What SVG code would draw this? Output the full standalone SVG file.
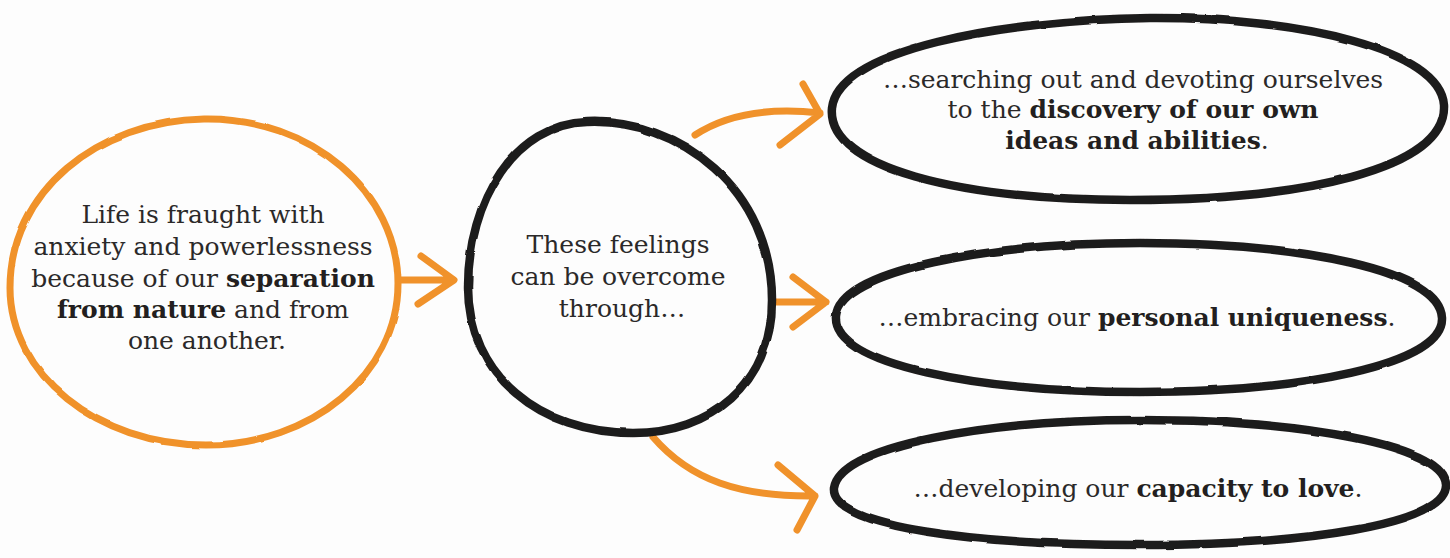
<svg xmlns="http://www.w3.org/2000/svg" width="1450" height="558" viewBox="0 0 1450 558">
<defs>
<filter id="rough" x="-5%" y="-5%" width="110%" height="110%">
<feTurbulence type="fractalNoise" baseFrequency="0.03" numOctaves="2" seed="3" result="n"/>
<feDisplacementMap in="SourceGraphic" in2="n" scale="2.5" xChannelSelector="R" yChannelSelector="G"/>
</filter>
</defs>
<style>
.bg{fill:#fdfdfd}
.ink{fill:none;stroke:#1e1c1c;stroke-width:8.5;stroke-linejoin:round;stroke-linecap:round}
.org{fill:none;stroke:#f0922b;stroke-width:7;stroke-linejoin:round;stroke-linecap:round}
.t{font-family:"DejaVu Serif","Liberation Serif",serif;font-size:25px;fill:#2b2929;text-anchor:middle}
.b{font-weight:bold;fill:#231f20}
</style>
<rect class="bg" x="0" y="0" width="1450" height="558"/>

<g id="connectors">
<path class="org" d="M 400,280 L 452,280 M 421,256 L 454,280 L 418,304"/>
<path class="org" d="M 695,135 C 730,112 775,108 820,113 M 803,84 L 820,114 L 780,145"/>
<path class="org" d="M 776,302 L 826,302 M 793,277 L 826,302 L 793,327"/>
<path class="org" d="M 653,437 C 690,480 740,497 815,496 M 778,465 L 815,496 L 797,530"/>
</g>

<g id="node-life">
<path class="org" filter="url(#rough)" d="M 204,119 C 311,117 398,192 398,284 C 398,374 311,445 206,445 C 97,445 10,374 10,288 C 10,192 97,121 204,119 Z"/>
<text class="t">
<tspan x="207" y="223">Life is fraught with</tspan>
<tspan x="207" y="255">anxiety and powerlessness</tspan>
<tspan x="207" y="287">because of our <tspan class="b">separation</tspan></tspan>
<tspan x="207" y="318"><tspan class="b">from nature</tspan> and from</tspan>
<tspan x="207" y="349">one another.</tspan>
</text>
</g>

<g id="node-feelings">
<path class="ink" filter="url(#rough)" d="M 587,122 C 680,118 772,190 772,300 C 772,385 710,433 633,433 C 540,433 468,375 468,287 C 468,200 515,124 587,122 Z"/>
<text class="t">
<tspan x="622" y="253">These feelings</tspan>
<tspan x="622" y="285">can be overcome</tspan>
<tspan x="622" y="317">through…</tspan>
</text>
</g>

<g id="node-discovery">
<path class="ink" filter="url(#rough)" d="M 832,108 C 838,50 1000,20 1150,18 C 1300,17 1440,50 1444,105 C 1447,170 1300,200 1130,200 C 960,200 826,168 832,108 Z"/>
<text class="t">
<tspan x="1137" y="88">…searching out and devoting ourselves</tspan>
<tspan x="1137" y="118">to the <tspan class="b">discovery of our own</tspan></tspan>
<tspan x="1137" y="149"><tspan class="b">ideas and abilities</tspan>.</tspan>
</text>
</g>

<g id="node-uniqueness">
<path class="ink" filter="url(#rough)" d="M 836,316 C 840,270 990,243 1140,243 C 1300,243 1440,270 1442,318 C 1444,365 1300,392 1140,392 C 980,392 832,365 836,316 Z"/>
<text class="t" x="1137" y="326">…embracing our <tspan class="b">personal uniqueness</tspan>.</text>
</g>

<g id="node-love">
<path class="ink" filter="url(#rough)" d="M 834,488 C 840,445 990,420 1140,420 C 1300,420 1445,445 1446,485 C 1447,525 1300,545 1140,545 C 980,545 830,528 834,488 Z"/>
<text class="t" x="1138" y="497">…developing our <tspan class="b">capacity to love</tspan>.</text>
</g>
</svg>
